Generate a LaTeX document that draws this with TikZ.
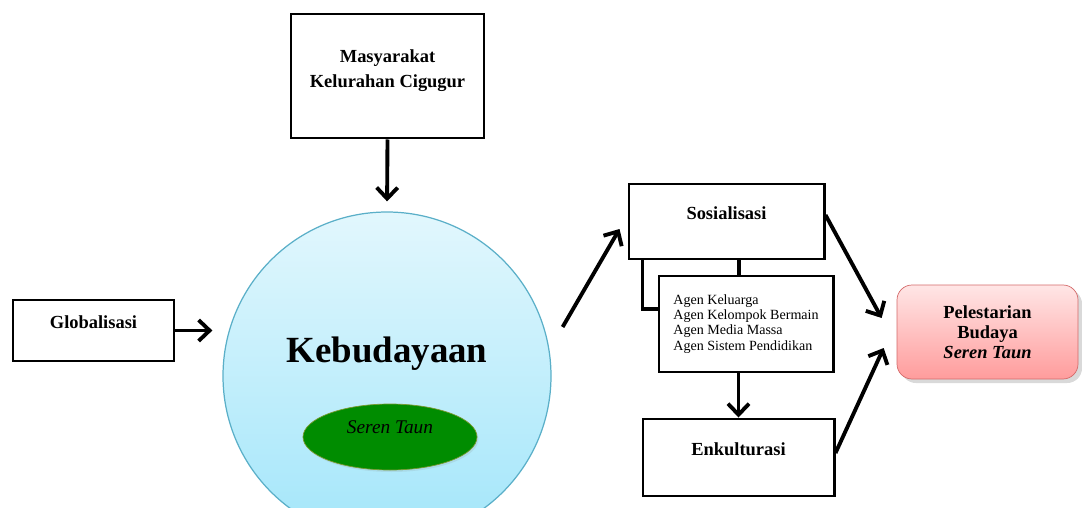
\documentclass[tikz,border=0pt]{standalone}
\usepackage{fontspec}
\setmainfont{Liberation Serif}
\usetikzlibrary{arrows.meta,shapes.geometric,shadows}

\definecolor{skytop}{HTML}{E2F7FD}
\definecolor{skybottom}{HTML}{A3E6FA}
\definecolor{skyedge}{HTML}{5AAFC8}
\definecolor{padi}{HTML}{008C00}
\definecolor{padiedge}{HTML}{7A9A30}
\definecolor{rosetop}{HTML}{FFE6E6}
\definecolor{rosebottom}{HTML}{FF9C9C}
\definecolor{roseedge}{HTML}{D46A6A}

\begin{document}
\begin{tikzpicture}[
    box/.style ={rectangle, draw, line width=1.7pt, font=\bfseries\fontsize{10.5}{14}\selectfont,
                 align=center, text height=0.3cm, text depth=0.4cm},
    line/.style ={line width=2.2pt},
    arrow/.style ={line width=2.2pt, -{Straight Barb[length=0.22cm,width=0.42cm]}}]
   \clip (0,0) rectangle (21.64,-10.16);

   \node[box,minimum width=3.86cm,minimum height=2.48cm,text height=,text depth=0.3cm] (masyarakat) at (7.75,-1.52) {Masyarakat\\Kelurahan Cigugur};
   \node[box,minimum width=3.22cm,minimum height=1.22cm] (globalisasi) at (1.87,-6.61) {Globalisasi};
   \node[circle,draw=skyedge,line width=0.7pt,top color=skytop,bottom color=skybottom,minimum size=6.56cm,
         font=\bfseries\fontsize{21}{25}\selectfont,text height=0.55cm,text depth=1.11cm] (kebudayaan) at (7.74,-7.52) {Kebudayaan};
   \node[ellipse,draw=padiedge,thin,fill=padi,drop shadow={opacity=0.15,shadow xshift=0.03cm,shadow yshift=-0.04cm},inner sep=0pt,
         minimum width=3.48cm,minimum height=1.32cm,
         font=\itshape\fontsize{11}{13}\selectfont,text height=0.3cm,text depth=0.46cm] (seren) at (7.8,-8.74) {Seren Taun};
   \node[box,minimum width=3.9cm,minimum height=1.5cm] (sosialisasi) at (14.53,-4.43) {Sosialisasi};
   \node[rectangle,draw,line width=1.7pt,minimum width=3.48cm,minimum height=1.92cm,align=left,
         font=\fontsize{8}{8.6}\selectfont] (agen) at (14.92,-6.48) {Agen Keluarga\\Agen Kelompok Bermain\\Agen Media Massa\\Agen Sistem Pendidikan};
   \node[box,minimum width=3.82cm,minimum height=1.54cm] (enkulturasi) at (14.77,-9.15) {Enkulturasi};
   \node[rectangle,rounded corners=0.3cm,draw=roseedge,thin,top color=rosetop,bottom color=rosebottom,
         drop shadow={opacity=0.3},minimum width=3.62cm,minimum height=1.88cm,align=center,
         font=\bfseries\fontsize{10.5}{11.4}\selectfont] (pelestarian) at (19.75,-6.64) {Pelestarian\\Budaya\\\textit{Seren Taun}};

   \draw[arrow,shorten >=0.2cm] (masyarakat.south) to (kebudayaan.north);
   \draw[arrow,shorten >=0.2cm] (globalisasi.east) to (globalisasi.east -| kebudayaan.west);
   \draw[arrow] ([shift={(0.22,0.98)}]kebudayaan.east) to ([shift={(-0.16,-0.15)}]sosialisasi.west);
   \draw[line] ([xshift=-0.14cm]agen.north) to ([xshift=-0.14cm]agen.north |- sosialisasi.south);
   \draw[line] ([xshift=0.3cm]sosialisasi.south west) |- ([yshift=0.3cm]agen.west);
   \draw[arrow] (agen.south -| enkulturasi.north) to (enkulturasi.north);
   \draw[arrow] ([yshift=0.13cm]sosialisasi.east) to ([shift={(-0.3,0.28)}]pelestarian.west);
   \draw[arrow] ([yshift=0.09cm]enkulturasi.east) to ([shift={(-0.26,-0.32)}]pelestarian.west);
 \end{tikzpicture}
\end{document}
